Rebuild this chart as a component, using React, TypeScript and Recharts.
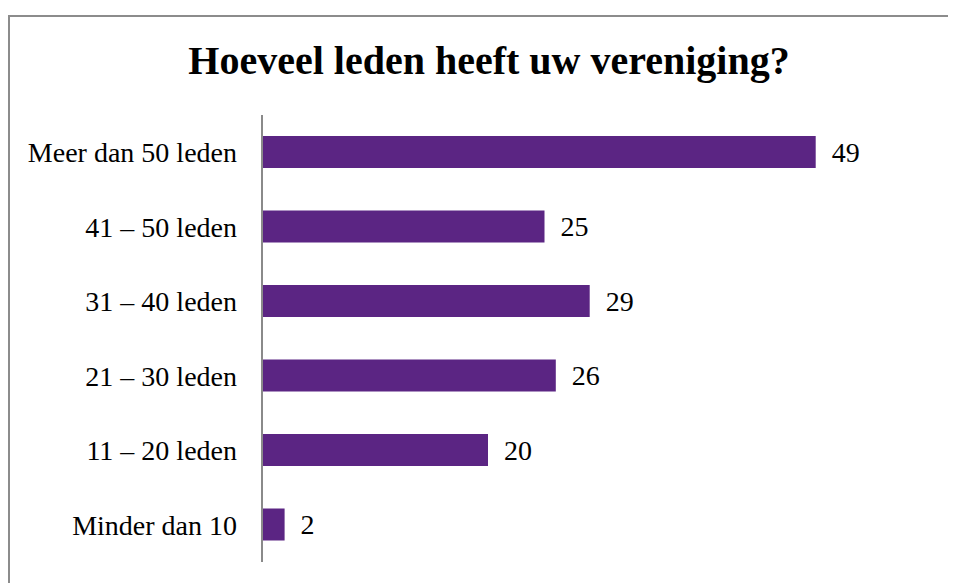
import React from "react";
import { BarChart, Bar, XAxis, YAxis, LabelList } from "recharts";

const categories = [
  "Meer dan 50 leden",
  "41 – 50 leden",
  "31 – 40 leden",
  "21 – 30 leden",
  "11 – 20 leden",
  "Minder dan 10",
];
const values = [49, 25, 29, 26, 20, 2];
const title = "Hoeveel leden heeft uw vereniging?";

const data = categories.map((name, i) => ({ name, value: values[i] }));

const FONT = "'Liberation Serif', 'DejaVu Serif', serif";

export default function App() {
  return (
    <div style={{ position: "relative", width: 940, height: 575 }}>
      <div
        style={{
          position: "absolute",
          left: 0,
          top: 7,
          width: 940,
          height: 2,
          background: "#8c8c8c",
        }}
      />
      <div
        style={{
          position: "absolute",
          left: 0,
          top: 7,
          width: 2,
          height: 568,
          background: "#8c8c8c",
        }}
      />
      <div
        style={{
          position: "absolute",
          left: 2,
          top: 9,
          width: 938,
          height: 566,
          fontFamily: FONT,
        }}
      >
        <div
          style={{
            position: "absolute",
            left: 0,
            width: 958,
            top: 22,
            textAlign: "center",
            fontSize: 40,
            fontWeight: "bold",
            color: "#000",
            lineHeight: "44px",
            whiteSpace: "nowrap",
          }}
        >
          {title}
        </div>
        <div style={{ position: "absolute", left: 0, top: 0 }}>
          <BarChart
            width={936}
            height={570}
            data={data}
            layout="vertical"
            margin={{ top: 98, right: 6, bottom: 25, left: 0 }}
            barSize={32}
          >
            <XAxis type="number" domain={[0, 60]} hide />
            <YAxis
              type="category"
              dataKey="name"
              width={252}
              axisLine={{ stroke: "#8a8a8a", strokeWidth: 2 }}
              tickLine={false}
              tickSize={0}
              tickMargin={25}
              tick={{ fontSize: 28, fill: "#000", fontFamily: FONT }}
            />
            <Bar dataKey="value" fill="#5b2583" isAnimationActive={false}>
              <LabelList
                dataKey="value"
                position="right"
                offset={16}
                style={{ fontSize: 28, fill: "#000", fontFamily: FONT }}
              />
            </Bar>
          </BarChart>
        </div>
      </div>
    </div>
  );
}
